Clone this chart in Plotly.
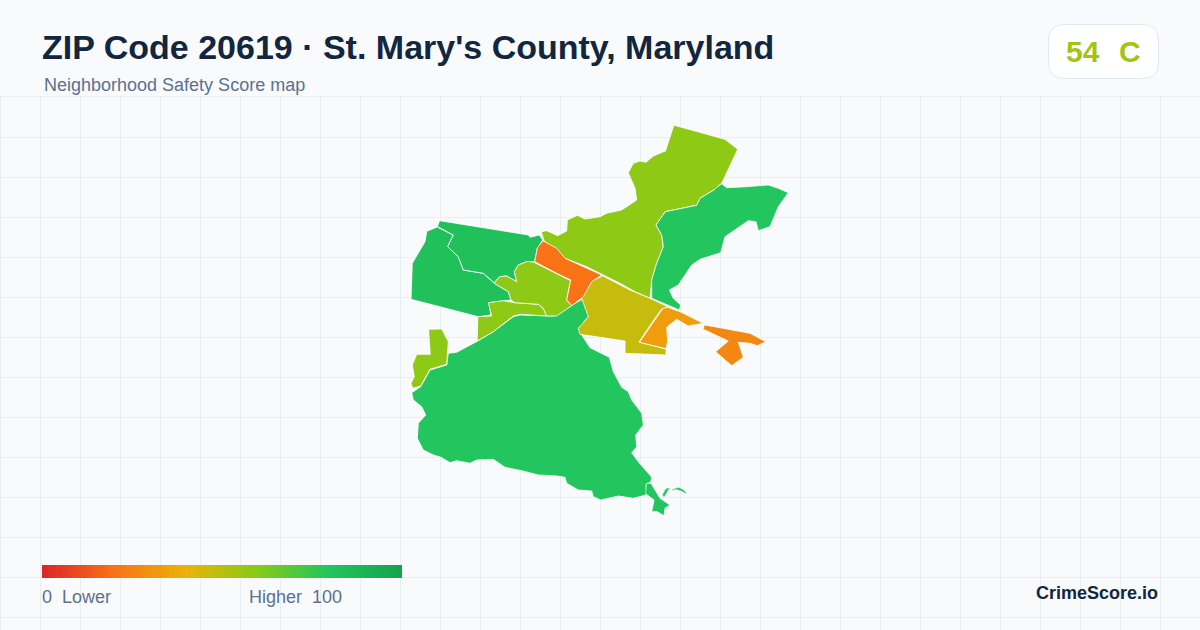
import plotly.graph_objects as go
from plotly.colors import sample_colorscale

# colour ramp used by the legend bar and the areas
ramp = [[0, '#dc2626'], [0.2, '#f97316'], [0.4, '#eab308'],
        [0.6, '#84cc16'], [0.8, '#22c55e'], [1, '#16a34a']]
legend_values = list(range(0, 101))
overall_score = 54
overall_grade = 'C'

# areas: map x, map y (canvas units) and safety score
north_x = [674.3, 725, 737.7, 722, 715, 700, 696.7, 665.3, 656, 661.7, 663.3, 656.7, 651.7, 650, 635, 620, 603.3, 586.7, 565, 544, 541.3, 546.7, 557.7, 566.7, 567.3, 577.3, 585, 600, 606.7, 621.7, 636.7, 635, 628.3, 633.3, 640, 646, 653.3, 666]
north_y = [125.3, 139.3, 149.3, 182.7, 189.3, 198.3, 205.3, 211.7, 225, 235, 246.7, 263.3, 280, 298.3, 291.7, 283.3, 275, 266.7, 258.3, 240.7, 231.7, 230.7, 235.7, 231, 220, 215.3, 219, 216.7, 213.3, 210, 200, 188.3, 172.7, 163.3, 161, 162.3, 156, 150.7]

northeast_x = [722, 726.7, 746.7, 768.3, 778.3, 788.3, 778.3, 770, 758.3, 756, 748.3, 736.7, 725, 720.7, 700, 691.7, 685, 678.3, 669.3, 673.3, 680.7, 679.3, 651.7, 651.7, 656.7, 663.3, 661.7, 656, 665.3, 696.7, 700, 715]
northeast_y = [184, 187.7, 186.7, 185, 188.3, 192.7, 206.7, 226.7, 230.7, 221.7, 220.7, 228.3, 236.7, 252.7, 259.3, 265, 275, 285, 290, 298.3, 305, 310, 298.3, 280, 263.3, 246.7, 235, 225, 211.7, 205.3, 198.3, 189.3]

wedge_x = [543.3, 556.7, 565, 586.7, 601.7, 591.7, 583.3, 571.7, 566.7, 570.7, 556.7, 534.7, 537.3]
wedge_y = [241, 248.3, 258.3, 268.3, 275, 281.7, 296.7, 305.7, 300, 280, 273.3, 261.7, 248.3]

central_x = [603, 630, 650, 668, 661.7, 653.3, 639, 666, 666, 625, 625, 580, 578.3, 588.3, 581.7, 591.7]
central_y = [276, 290, 298.3, 306.7, 309, 320.7, 342, 349, 355, 353.3, 341, 334.3, 328.3, 316.7, 298.3, 281.7]

strip_x = [668.3, 680, 703.3, 688.3, 676.7, 666.7, 667.7, 666, 639.5, 653.8, 662.2]
strip_y = [307.5, 311.7, 323.3, 326, 319.3, 327.3, 341, 348.7, 342.3, 321, 309.3]

east_x = [705, 750, 765.7, 757.3, 750, 738.3, 743.3, 731.7, 715.7, 728.3, 703.3]
east_y = [325, 333.3, 341.7, 345.7, 343.3, 342.3, 357.3, 365.7, 351.7, 341, 329.3]

south_x = [581.7, 584.3, 588.3, 579, 581.7, 590, 609.3, 613.3, 621.7, 628.3, 631.7, 641.7, 643.3, 635.7, 636.7, 631.7, 638.3, 651.7, 650.7, 646, 646, 633.3, 618.3, 600.7, 593.3, 591.7, 578.3, 566.7, 565, 556.7, 540, 538.3, 521.7, 505, 493.3, 476.7, 470, 456.7, 450, 441, 433.3, 423.3, 417.3, 418.3, 425.7, 421.7, 413.3, 411.7, 420.7, 430, 446.7, 448.3, 456.7, 478.3, 493.3, 513.3, 520, 553.3, 570]
south_y = [300, 300.7, 316.7, 328.3, 335, 347.7, 357.3, 371.7, 387.3, 391.7, 400, 413.3, 425, 435, 446.7, 452.7, 461.7, 477.3, 482.3, 484, 495, 498.3, 496, 500, 496.7, 491, 490, 483.3, 477.3, 476, 475, 475, 470.7, 467.3, 459.3, 460, 463.3, 460.7, 462.7, 457.3, 455, 450, 438.3, 423.3, 415, 406.7, 400, 392.7, 386.7, 370, 365, 353.3, 352.3, 340.7, 331.7, 316.7, 315, 316, 306.7]

tip_x = [646.7, 651, 660, 670, 665, 664, 657.3, 651.7, 654, 646]
tip_y = [483.3, 483.3, 498.3, 505, 508.3, 515.7, 511.7, 511.7, 500, 494]
islet_a_x = [662.7, 666, 669, 666, 664]
islet_a_y = [495, 489, 488.3, 493.3, 496.7]
islet_b_x = [672, 678.3, 683.3, 686, 681.7, 676.7]
islet_b_y = [490, 487.7, 490, 493.3, 490.7, 489.3]

southwest_x = [429, 441.7, 448.3, 447.7, 446.7, 430, 420.7, 412.7, 411, 414.3, 412.3, 416.7, 430.7]
southwest_y = [329.3, 329, 341.7, 353.3, 364.3, 369.3, 386, 388.3, 383.3, 376.7, 365, 354.3, 354.3]

lower_mid_x = [478.3, 491.7, 488.3, 503.3, 515, 538.3, 543.3, 546.7, 520, 513.3, 493.3, 477.7]
lower_mid_y = [316.7, 316, 302.7, 300.7, 302.7, 304.3, 308.3, 316, 314.3, 316, 331.7, 340.7]

middle_x = [534.7, 556.7, 570.7, 566.7, 571.7, 556.7, 546.7, 543.3, 538.3, 515, 511, 508.3, 494.3, 499.3, 506.7, 516.7, 514.3, 518.3, 526.7]
middle_y = [262.7, 273.3, 280.7, 300, 305.7, 316, 316, 308.3, 304.3, 302.7, 300, 291.7, 283.3, 276.7, 276, 281.7, 271.7, 265, 261.7]

northwest_x = [440, 528.3, 530, 539.3, 542.7, 537.3, 534.7, 526.7, 518.3, 514.3, 516.7, 506.7, 499.3, 494.3, 483.3, 463.3, 458.3, 447.7, 453.3, 437.7]
northwest_y = [220.7, 235, 237.3, 235, 240, 248.3, 261.7, 261.7, 265, 271.7, 281.7, 276, 276.7, 282.7, 273.3, 270, 256.7, 246.7, 235, 226.7]

west_x = [437.7, 453.3, 447.7, 458.3, 463.3, 483.3, 494.3, 508.3, 511, 489.3, 490.7, 478.3, 411, 412.3, 425, 426.7]
west_y = [227.3, 235, 246.7, 256.7, 270, 273.3, 283.3, 291.7, 300, 302.7, 315, 316.7, 299.3, 263.3, 241.7, 231.7]

areas = [
    (north_x, north_y, 58),
    (northeast_x, northeast_y, 80),
    (west_x, west_y, 83),
    (northwest_x, northwest_y, 83),
    (south_x, south_y, 80),
    (tip_x, tip_y, 80),
    (southwest_x, southwest_y, 58),
    (lower_mid_x, lower_mid_y, 58),
    (middle_x, middle_y, 58),
    (central_x, central_y, 47),
    (wedge_x, wedge_y, 20),
    (strip_x, strip_y, 33),
    (east_x, east_y, 26),
]
# too small to carry a white outline
islets = [(islet_a_x, islet_a_y, 80), (islet_b_x, islet_b_y, 80)]

W, H = 1200, 630
HEADER = 96


def score_color(score):
    return sample_colorscale(ramp, [score / 100])[0]


def py(y):
    # canvas y -> paper y
    return 1 - y / H


fig = go.Figure()

for xs, ys, score in areas:
    fig.add_trace(go.Scatter(x=xs, y=ys, mode='lines', fill='toself',
                             fillcolor=score_color(score),
                             line=dict(color='white', width=0.8),
                             hoverinfo='skip', showlegend=False))

for xs, ys, score in islets:
    fig.add_trace(go.Scatter(x=xs, y=ys, mode='lines', fill='toself',
                             fillcolor=score_color(score),
                             line=dict(color=score_color(score), width=0.5),
                             hoverinfo='skip', showlegend=False))

# legend bar
fig.add_trace(go.Heatmap(z=[legend_values], x=legend_values, y=[0],
                         colorscale=ramp, zmin=0, zmax=100, showscale=False,
                         hoverinfo='skip', xaxis='x2', yaxis='y2'))

grid = '#e6eff2'
fig.update_layout(
    width=W, height=H,
    margin=dict(l=0, r=0, t=0, b=0),
    paper_bgcolor='#f8fafc',
    plot_bgcolor='#f8fafc',
    showlegend=False,
    xaxis=dict(range=[0, W], domain=[0, 1], tick0=0, dtick=40, showgrid=True,
               gridcolor=grid, gridwidth=1, zeroline=False, showticklabels=False,
               ticks=''),
    yaxis=dict(range=[H, HEADER], domain=[0, 1 - HEADER / H], tick0=97, dtick=40,
               showgrid=True, gridcolor=grid, gridwidth=1, zeroline=False,
               showticklabels=False, ticks=''),
    xaxis2=dict(range=[-0.5, 100.5], domain=[42 / W, 402 / W], anchor='y2', visible=False),
    yaxis2=dict(range=[-0.5, 0.5], domain=[py(578), py(565)], anchor='x2', visible=False),
)

# plotly drops the gridlines sitting right on the plot edge, so add those two by hand
fig.add_shape(type='line', xref='paper', yref='paper', x0=0, x1=1, y0=py(96.5), y1=py(96.5),
              line=dict(color=grid, width=1), layer='below')
fig.add_shape(type='line', xref='paper', yref='paper', x0=0.5 / W, x1=0.5 / W, y0=0, y1=py(96.5),
              line=dict(color=grid, width=1), layer='below')

# score badge
x0, x1, y0, y1, r = 1048.5, 1158.5, 24.5, 78.5, 16


def bx(x):
    return x / W


badge = (f'M {bx(x0 + r)} {py(y0)} L {bx(x1 - r)} {py(y0)} '
         f'Q {bx(x1)} {py(y0)} {bx(x1)} {py(y0 + r)} L {bx(x1)} {py(y1 - r)} '
         f'Q {bx(x1)} {py(y1)} {bx(x1 - r)} {py(y1)} L {bx(x0 + r)} {py(y1)} '
         f'Q {bx(x0)} {py(y1)} {bx(x0)} {py(y1 - r)} L {bx(x0)} {py(y0 + r)} '
         f'Q {bx(x0)} {py(y0)} {bx(x0 + r)} {py(y0)} Z')
fig.add_shape(type='path', path=badge, xref='paper', yref='paper',
              fillcolor='white', line=dict(color='#e2e8f0', width=1))


def label(text, x, y, size, color, bold=False, anchor='left'):
    fig.add_annotation(text=f'<b>{text}</b>' if bold else text,
                       x=x / W, y=py(y), xref='paper', yref='paper',
                       xanchor=anchor, yanchor='middle', showarrow=False,
                       borderpad=0, borderwidth=0,
                       font=dict(family='Liberation Sans', size=size, color=color))


navy = '#12263f'
slate = '#5b7190'
badge_color = score_color(overall_score)

label("ZIP Code 20619 · St. Mary's County, Maryland", 42, 47, 34, navy, bold=True)
label('Neighborhood Safety Score map', 44, 85, 18, slate)
label(str(overall_score), 1066, 51, 30, badge_color, bold=True)
label(overall_grade, 1119, 51, 30, badge_color, bold=True)
label('0\u00a0\u00a0Lower', 42, 597, 18, slate)
label('Higher\u00a0\u00a0100', 342, 597, 18, slate, anchor='right')
label('CrimeScore.io', 1158, 593, 18, navy, bold=True, anchor='right')

# the page's default body margin would shift the figure
fig.write_html('out.html', config=dict(displayModeBar=False),
               post_script="document.body.style.margin='0';document.body.style.background='#f8fafc';")
